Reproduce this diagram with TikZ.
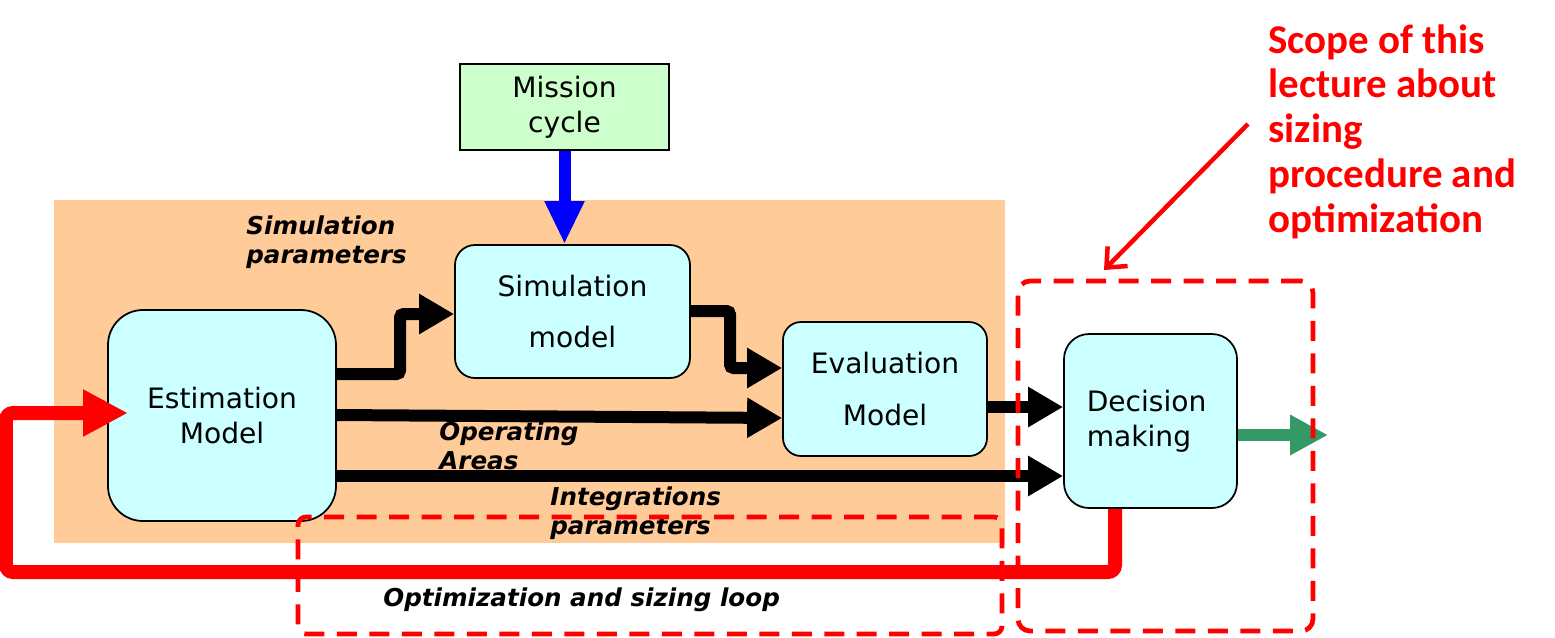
\documentclass[tikz,border=0pt]{standalone}
\usepackage{fontspec}
\setmainfont{DejaVu Sans}
\newfontfamily\redfont{Carlito}
\usetikzlibrary{arrows.meta}
\definecolor{bgorange}{RGB}{255,203,153}
\definecolor{missionfill}{RGB}{204,255,204}
\definecolor{boxfill}{RGB}{204,255,255}
\definecolor{outgreen}{RGB}{51,153,102}
\tikzset{
  modelbox/.style={draw=black, line width=1pt, fill=boxfill, align=center, inner sep=0pt},
  blk/.style={line width=0.24cm, draw=black, rounded corners=2pt, -{Triangle[length=0.7cm,width=0.76cm]}},
  lbl/.style={font=\bfseries\itshape\fontsize{14}{16.5}\selectfont, align=left, anchor=west, inner sep=0pt},
  dashbox/.style={draw=red, line width=0.095cm, dash pattern=on 0.4cm off 0.25cm, inner sep=0pt}
}
\begin{document}
\begin{tikzpicture}[x=0.02cm,y=-0.02cm]
\useasboundingbox[fill=white] (0,0) rectangle (1555,637);
% orange background
\fill[bgorange] (54,200) rectangle (1005,543);
% nodes
\node[draw=black, line width=1.1pt, fill=missionfill, minimum width={209*0.02cm}, minimum height={86*0.02cm}, align=center, inner sep=0pt,
  font=\fontsize{16}{20}\selectfont] (mission) at (564.5,107) {Mission\\cycle};
\node[modelbox, rounded corners=0.4cm, minimum width={235*0.02cm}, minimum height={133*0.02cm},
  font=\fontsize{16}{29.5}\selectfont] (sim) at (572.5,311.5) {Simulation\\model};
\node[modelbox, rounded corners=0.7cm, minimum width={228*0.02cm}, minimum height={211*0.02cm},
  font=\fontsize{16}{20}\selectfont] (est) at (222,415.5) {Estimation\\Model};
\node[modelbox, rounded corners=0.36cm, minimum width={204*0.02cm}, minimum height={134*0.02cm},
  font=\fontsize{16}{30}\selectfont] (eval) at (885,389) {Evaluation\\Model};
\node[modelbox, rounded corners=0.5cm, minimum width={173*0.02cm}, minimum height={174*0.02cm},
  font=\fontsize{16}{20}\selectfont, text width=2.55cm, align=left] (dec) at (1150.5,421) {Decision\\making};
% labels
\node[lbl] (lsim) at (246,242) {Simulation\\parameters};
\node[lbl] (lop) at (439,446) {Operating\\Areas};
\node[lbl] (lint) at (550,513) {Integrations\\parameters};
\node[lbl] (lopt) at (383,600) {Optimization and sizing loop};
% blue arrow
\draw[blue, line width=0.24cm, -{Triangle[length=0.86cm,width=0.74cm]}] (mission.south) -- (mission.south |- sim.north);
% black arrows
\draw[blk] (est.east |- 0,374) -- (400,374) -- (400,314) -- (sim.west |- 0,314);
\draw[blk] (est.east |- 0,415) -- (eval.west |- 0,418);
\draw[blk] (est.east |- 0,476) -- (dec.west |- 0,476);
\draw[blk] (sim.east |- 0,311) -- (730,311) -- (730,368) -- (eval.west |- 0,368);
\draw[blk] (eval.east |- 0,407) -- (dec.west |- 0,407);
% green output arrow
\coordinate (out) at (1328,435);
\draw[outgreen, line width=0.24cm, -{Triangle[length=0.76cm,width=0.76cm]}] (dec.east |- out) -- (out);
% red loop
\coordinate (loopend) at (128,413);
\draw[red, line width=0.28cm, rounded corners=4pt, -{Triangle[length=0.9cm,width=0.88cm]}]
  (1115,0 |- dec.south) -- (1115,572) -- (6,572) -- (6,413) -- (loopend);
% dashed boxes
\node[dashbox, rounded corners=0.16cm, minimum width={704*0.02cm}, minimum height={117*0.02cm}] (optbox) at (650,575.5) {};
\node[dashbox, rounded corners=0.24cm, minimum width={295*0.02cm}, minimum height={350*0.02cm}] (scopebox) at (1165.5,456) {};
% scope text
\node[text=red, font=\redfont\bfseries\fontsize{23.3}{25.5}\selectfont, align=left, anchor=north west, inner sep=0pt] (scope) at (1268,24)
  {Scope of this\\lecture about\\sizing\\procedure and\\optimization};
\coordinate (ptrA) at (1248,124);
\coordinate (ptrB) at (1104,270);
\draw[red, line width=0.09cm, -{Straight Barb[length=0.32cm,width=0.56cm]}] (ptrA) -- (ptrB);
\end{tikzpicture}
\end{document}
